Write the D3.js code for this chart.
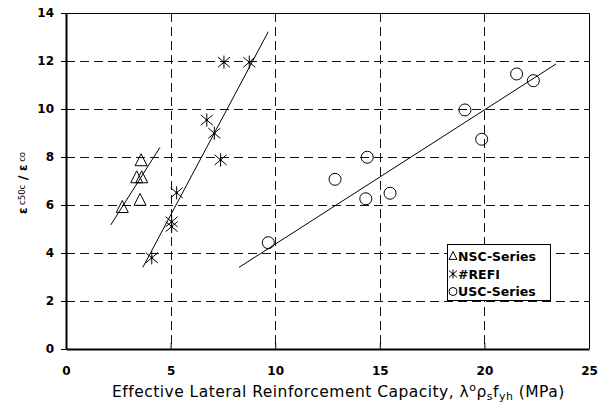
<!DOCTYPE html>
<html><head><meta charset="utf-8">
<script src="https://cdn.jsdelivr.net/npm/d3@7/dist/d3.min.js"></script>
<style>
body{margin:0;background:#fff;}
svg{display:block;font-family:"DejaVu Sans",sans-serif;}
</style></head>
<body><svg id="c" width="610" height="405"></svg>
<script>
// ---- data ----
const xTicks = [0, 5, 10, 15, 20, 25];
const yTicks = [0, 2, 4, 6, 8, 10, 12, 14];
const seriesNames = ["NSC-Series", "#REFI", "USC-Series"];
const nscX = [2.69, 3.54, 3.38, 3.62, 3.59];
const nscY = [5.90, 6.20, 7.14, 7.14, 7.85];
const refiX = [4.10, 5.05, 5.05, 5.29, 7.39, 6.73, 7.09, 7.55, 8.76];
const refiY = [3.80, 5.30, 5.10, 6.51, 7.88, 9.54, 8.99, 11.95, 11.95];
const uscX = [9.67, 12.86, 14.33, 14.40, 15.49, 19.07, 19.87, 21.54, 22.34];
const uscY = [4.43, 7.07, 6.26, 7.99, 6.49, 9.96, 8.74, 11.46, 11.18];
// fitted trend lines (end points)
const nscFitX = [2.14, 4.49], nscFitY = [5.17, 8.40];
const refiFitX = [3.67, 9.67], refiFitY = [3.40, 13.22];
const uscFitX = [8.27, 23.42], uscFitY = [3.40, 11.875];

const svg = d3.select("#c");
const L = 66, R = 589, T = 13, B = 349;
const x = d3.scaleLinear().domain([0, 25]).range([L, R]);
const y = d3.scaleLinear().domain([0, 14]).range([B, T]);

// grid
const grid = svg.append("g").attr("stroke", "#111").attr("stroke-width", 1)
  .attr("stroke-dasharray", "9,5").attr("fill", "none");
grid.selectAll("line.h").data(yTicks.filter(d => d > 0 && d < 14)).join("line")
  .attr("x1", L).attr("x2", R).attr("y1", d => Math.round(y(d)) + 0.5).attr("y2", d => Math.round(y(d)) + 0.5);
grid.selectAll("line.v").data(xTicks.filter(d => d > 0 && d < 25)).join("line")
  .attr("y1", T).attr("y2", B).attr("x1", d => Math.round(x(d)) + 0.5).attr("x2", d => Math.round(x(d)) + 0.5);

// frame top/right thin
svg.append("path").attr("d", `M${L},${T + 0.5}H${R + 0.5}V${B}`).attr("fill", "none")
  .attr("stroke", "#000").attr("stroke-width", 1);

// axes
const ax = svg.append("g").attr("transform", `translate(0,${B})`)
  .call(d3.axisBottom(x).tickValues(xTicks).tickSizeInner(-6).tickSizeOuter(0).tickPadding(17).tickFormat(d3.format("d")));
const ay = svg.append("g").attr("transform", `translate(${L},0)`)
  .call(d3.axisLeft(y).tickValues(yTicks).tickSize(5).tickSizeOuter(0).tickPadding(7).tickFormat(d3.format("d")));
[ax, ay].forEach(a => {
  a.select(".domain").attr("stroke", "#000").attr("stroke-width", 2);
  a.selectAll(".tick line").attr("stroke", "#000").attr("stroke-width", 1);
  a.selectAll(".tick text").attr("font-family", "DejaVu Sans").attr("font-weight", "bold")
    .attr("font-size", 12).attr("fill", "#000");
});

// trend lines
const fits = [[nscFitX, nscFitY], [refiFitX, refiFitY], [uscFitX, uscFitY]];
const lineGen = d3.line().x(d => x(d[0])).y(d => y(d[1]));
svg.append("g").selectAll("path").data(fits).join("path")
  .attr("d", f => lineGen(f[0].map((v, i) => [v, f[1][i]])))
  .attr("fill", "none").attr("stroke", "#000").attr("stroke-width", 1);

// marker drawers
function tri(g, s) {
  const h = s * 0.95;
  g.append("path").attr("d", `M0,${-h * 0.6}L${s / 2},${h * 0.45}L${-s / 2},${h * 0.45}Z`)
    .attr("fill", "none").attr("stroke", "#000").attr("stroke-width", 1);
}
function star(g, s) {
  const a = s / 2;
  g.append("path").attr("d", `M0,${-a * 1.1}V${a * 1.1}M${-a},${-a * 0.85}L${a},${a * 0.85}M${-a},${a * 0.85}L${a},${-a * 0.85}`)
    .attr("fill", "none").attr("stroke", "#000").attr("stroke-width", 1);
  g.append("circle").attr("r", 1.2).attr("fill", "#000");
}
function circ(g, s) {
  g.append("circle").attr("r", s / 2).attr("fill", "none").attr("stroke", "#000").attr("stroke-width", 1);
}

const pts = svg.append("g");
nscX.forEach((v, i) => tri(pts.append("g").attr("transform", `translate(${x(v)},${y(nscY[i])})`), 12));
refiX.forEach((v, i) => star(pts.append("g").attr("transform", `translate(${x(v)},${y(refiY[i])})`), 12));
uscX.forEach((v, i) => circ(pts.append("g").attr("transform", `translate(${x(v)},${y(uscY[i])})`), 12));

// legend
const lg = svg.append("g");
lg.append("rect").attr("x", 447.5).attr("y", 244.5).attr("width", 103).attr("height", 56)
  .attr("fill", "#fff").attr("stroke", "#000").attr("stroke-width", 1);
const lys = [256, 274, 291.5];
const drawers = [tri, star, circ];
seriesNames.forEach((n, i) => {
  const g = lg.append("g").attr("transform", `translate(453,${lys[i]})`);
  drawers[i](g, 8);
  lg.append("text").attr("x", 458).attr("y", lys[i]).attr("dy", "0.36em")
    .attr("font-size", 12.5).attr("font-weight", "bold").attr("fill", "#000").text(n);
});

// x title
const xt = svg.append("text").attr("x", 112).attr("y", 397).attr("font-size", 15.5).attr("fill", "#000");
xt.append("tspan").text("Effective Lateral Reinforcement Capacity,  λ");
xt.append("tspan").attr("font-size", 11).attr("dy", -6).text("o");
xt.append("tspan").attr("dy", 6).text("ρ");
xt.append("tspan").attr("font-size", 11).attr("dy", 3).text("s");
xt.append("tspan").attr("dy", -3).text("f");
xt.append("tspan").attr("font-size", 11).attr("dy", 3).text("yh");
xt.append("tspan").attr("dy", -3).text(" (MPa)");
{
  const target = 453;
  const len = xt.node().getComputedTextLength();
  const n = xt.text().length;
  if (len < target) xt.attr("letter-spacing", ((target - len) / n).toFixed(3));
  else xt.attr("textLength", target).attr("lengthAdjust", "spacingAndGlyphs");
}

// y title
const yt = svg.append("text").attr("transform", "translate(27,183) rotate(-90)")
  .attr("text-anchor", "middle").attr("font-size", 11.5).attr("fill", "#000");
yt.append("tspan").attr("font-weight", "bold").text("ε");
yt.append("tspan").attr("font-size", 8.5).attr("dy", -2).text(" c50c");
yt.append("tspan").attr("dy", 2).attr("font-size", 13).attr("font-weight", "bold").text(" / ");
yt.append("tspan").attr("font-weight", "bold").text("ε");
yt.append("tspan").attr("font-size", 8.5).attr("dy", -2).text(" co");
</script></body></html>
